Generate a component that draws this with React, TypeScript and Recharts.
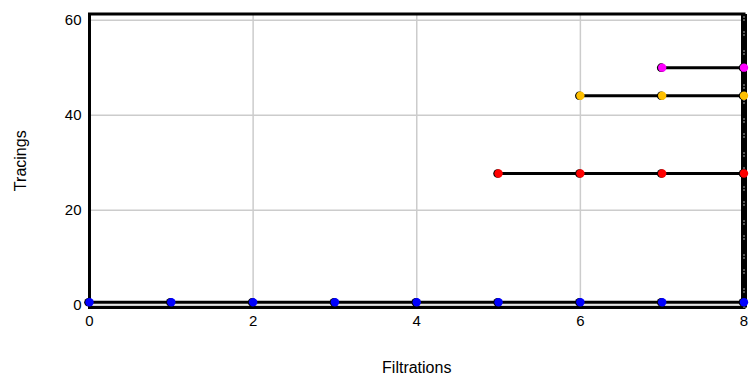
import React from "react";
import { LineChart, Line, XAxis, YAxis, CartesianGrid, ReferenceLine, ReferenceArea } from "recharts";

const xTicks = [0, 2, 4, 6, 8];
const yTicks = [0, 20, 40, 60];

const blueX = [0, 1, 2, 3, 4, 5, 6, 7, 8];
const blueY = [0.6, 0.6, 0.6, 0.6, 0.6, 0.6, 0.6, 0.6, 0.6];
const redX = [5, 6, 7, 8];
const redY = [27.7, 27.7, 27.7, 27.7];
const yellowX = [6, 7, 8];
const yellowY = [44.1, 44.1, 44.1];
const magentaX = [7, 8];
const magentaY = [50.0, 50.0];

const series = [
  { name: "blue", color: "#0000ff", xs: blueX, ys: blueY },
  { name: "red", color: "#ff0000", xs: redX, ys: redY },
  { name: "yellow", color: "#ffc000", xs: yellowX, ys: yellowY },
  { name: "magenta", color: "#ff00ff", xs: magentaX, ys: magentaY },
];

const FONT = "'Liberation Sans', Arial, sans-serif";

const makeDot = (color: string) => (props: any) => {
  const { cx, cy, index } = props;
  if (cx == null || cy == null) return <g key={index} />;
  return (
    <g key={index}>
      <circle cx={cx - 1} cy={cy} r={4.3} fill="#000" />
      <circle cx={cx} cy={cy} r={4.2} fill={color} />
    </g>
  );
};

export default function App() {
  return (
    <div style={{ position: "absolute", left: 0, top: 0 }}>
      <LineChart
        width={751}
        height={376}
        margin={{ top: 14, right: 7, bottom: 8.5, left: 0 }}
        style={{ fontFamily: FONT }}
      >
        <CartesianGrid stroke="#cccccc" strokeWidth={1.5} />
        <XAxis
          type="number"
          dataKey="x"
          domain={[0, 8]}
          ticks={xTicks}
          tickLine={false}
          axisLine={false}
          height={60}
          tick={{ fill: "#000", fontSize: 15, fontFamily: FONT }}
          label={{ value: "Filtrations", position: "insideBottom", offset: -5, fill: "#000", fontSize: 16, fontFamily: FONT }}
        />
        <YAxis
          type="number"
          dataKey="y"
          domain={[-0.5, 61.3]}
          ticks={yTicks}
          tickLine={false}
          axisLine={false}
          width={89.5}
          tick={{ fill: "#000", fontSize: 15, fontFamily: FONT }}
          label={{ value: "Tracings", angle: -90, position: "insideLeft", offset: 20, fill: "#000", fontSize: 16, fontFamily: FONT, style: { textAnchor: "middle" } }}
        />
        <ReferenceArea x1={0} x2={8} y1={-0.5} y2={61.3} fill="none" stroke="#000" strokeWidth={3} ifOverflow="visible" />
        <ReferenceLine x={8} stroke="#000" strokeWidth={6} ifOverflow="visible" />
        <ReferenceLine x={8} stroke="#ffffff" strokeWidth={1.3} strokeDasharray="1 2 1 11 1 2 1 15" ifOverflow="visible" />
        {series.map((s) => (
          <Line
            key={s.name}
            data={s.xs.map((x, i) => ({ x, y: s.ys[i] }))}
            dataKey="y"
            stroke="#000"
            strokeWidth={3}
            dot={makeDot(s.color)}
            activeDot={false}
            isAnimationActive={false}
          />
        ))}
      </LineChart>
    </div>
  );
}
